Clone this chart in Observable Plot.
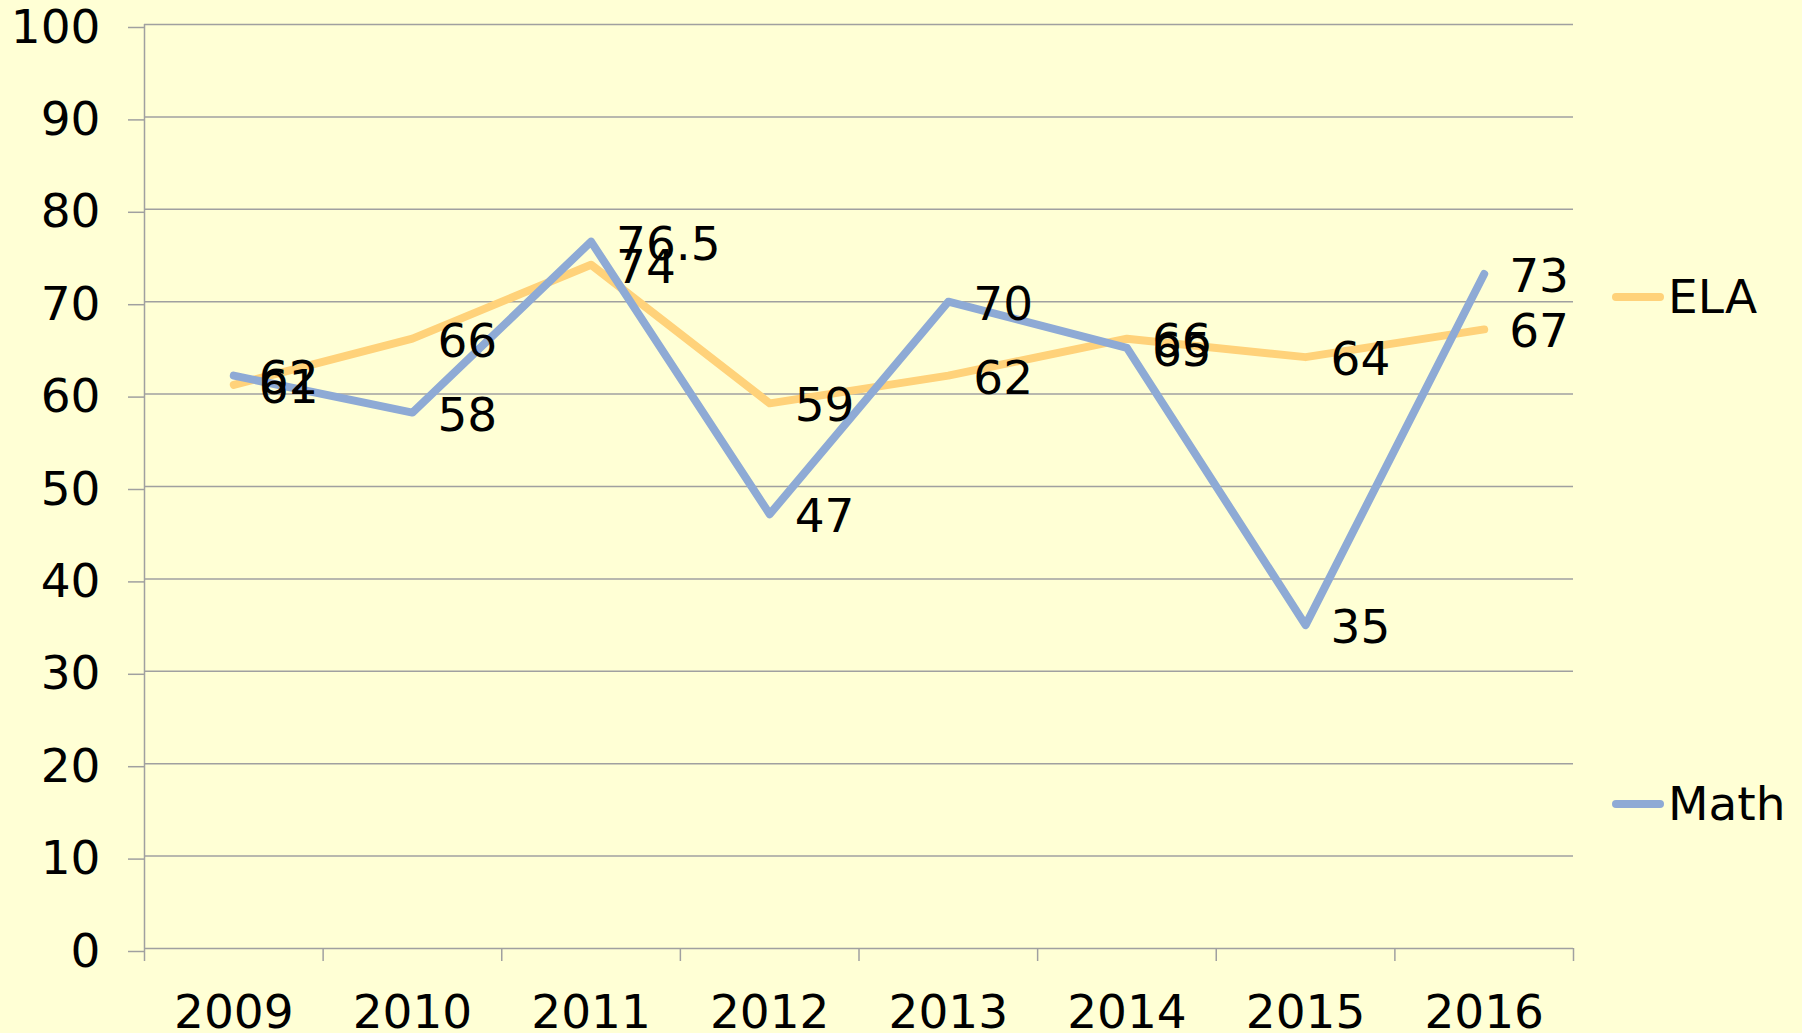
<!DOCTYPE html>
<html><head><meta charset="utf-8">
<script src="https://cdn.jsdelivr.net/npm/d3@7"></script>
<script src="https://cdn.jsdelivr.net/npm/@observablehq/plot@0.6"></script>
<style>
html,body{margin:0;padding:0;background:#FFFFD5;}
#wrap{position:relative;width:1802px;height:1033px;overflow:hidden;font-family:"DejaVu Sans",Verdana,sans-serif;background:#FFFFD5;}
.leg{position:absolute;display:flex;align-items:center;font-size:47px;line-height:52px;color:#000;}
.sw{width:52px;height:8px;border-radius:4px;margin-right:4px;}
</style></head><body><div id="wrap"></div>
<script>
const years = [2009, 2010, 2011, 2012, 2013, 2014, 2015, 2016];
const elaValues = [61, 66, 74, 59, 62, 66, 64, 67];
const mathValues = [62, 58, 76.5, 47, 70, 65, 35, 73];
const seriesNames = ["ELA", "Math"];
const seriesColors = ["#FFD27A", "#8EAAD5"];
const yTicks = [0, 10, 20, 30, 40, 50, 60, 70, 80, 90, 100];

const data = [
  ...years.map((y, i) => ({year: y, value: elaValues[i], series: "ELA"})),
  ...years.map((y, i) => ({year: y, value: mathValues[i], series: "Math"}))
];
const boundaries = [years[0] - 0.5, ...years.map(y => y + 0.5)];
const gridColor = "#A0A0A0";

const chart = Plot.plot({
  width: 1802,
  height: 1033,
  marginLeft: 144,
  marginRight: 229,
  marginTop: 24,
  marginBottom: 85,
  style: {background: "#FFFFD5", fontFamily: "DejaVu Sans, Verdana, sans-serif", fontSize: "47px", color: "black", overflow: "visible"},
  x: {type: "linear", domain: [boundaries[0], boundaries[boundaries.length - 1]], axis: null},
  y: {domain: [0, 100], axis: null},
  color: {domain: seriesNames, range: seriesColors},
  marks: [
    Plot.gridY(yTicks, {stroke: gridColor, strokeOpacity: 1, strokeWidth: 1.5}),
    Plot.axisY({ticks: yTicks, tickSize: 16, tickPadding: 28, stroke: gridColor, strokeWidth: 1.5, fill: "black", fontSize: 47, label: null, dy: 3}),
    Plot.ruleX([boundaries[0]], {y1: 0, y2: 100, stroke: gridColor, strokeWidth: 1.5}),
    Plot.axisX({ticks: boundaries, tickFormat: () => "", tickSize: 13, stroke: gridColor, strokeWidth: 1.5, label: null}),
    Plot.axisX({ticks: years, tickFormat: d => String(d), tickSize: 0, tickPadding: 46, fill: "black", fontSize: 47, label: null}),
    Plot.line(data, {x: "year", y: "value", z: "series", stroke: "series", strokeWidth: 8, strokeLinejoin: "round", strokeLinecap: "round"}),
    Plot.text(data, {x: "year", y: "value", text: d => String(d.value), textAnchor: "start", lineAnchor: "middle", dx: 25, dy: 3, fontSize: 47, fill: "black"})
  ]
});
const wrap = document.getElementById("wrap");
wrap.appendChild(chart);

const legendTops = [271, 778];
seriesNames.forEach((name, i) => {
  const d = document.createElement("div");
  d.className = "leg";
  d.style.left = "1612px";
  d.style.top = legendTops[i] + "px";
  const sw = document.createElement("div");
  sw.className = "sw";
  sw.style.background = seriesColors[i];
  const t = document.createElement("span");
  t.textContent = name;
  d.appendChild(sw); d.appendChild(t);
  wrap.appendChild(d);
});
</script>
</body></html>
